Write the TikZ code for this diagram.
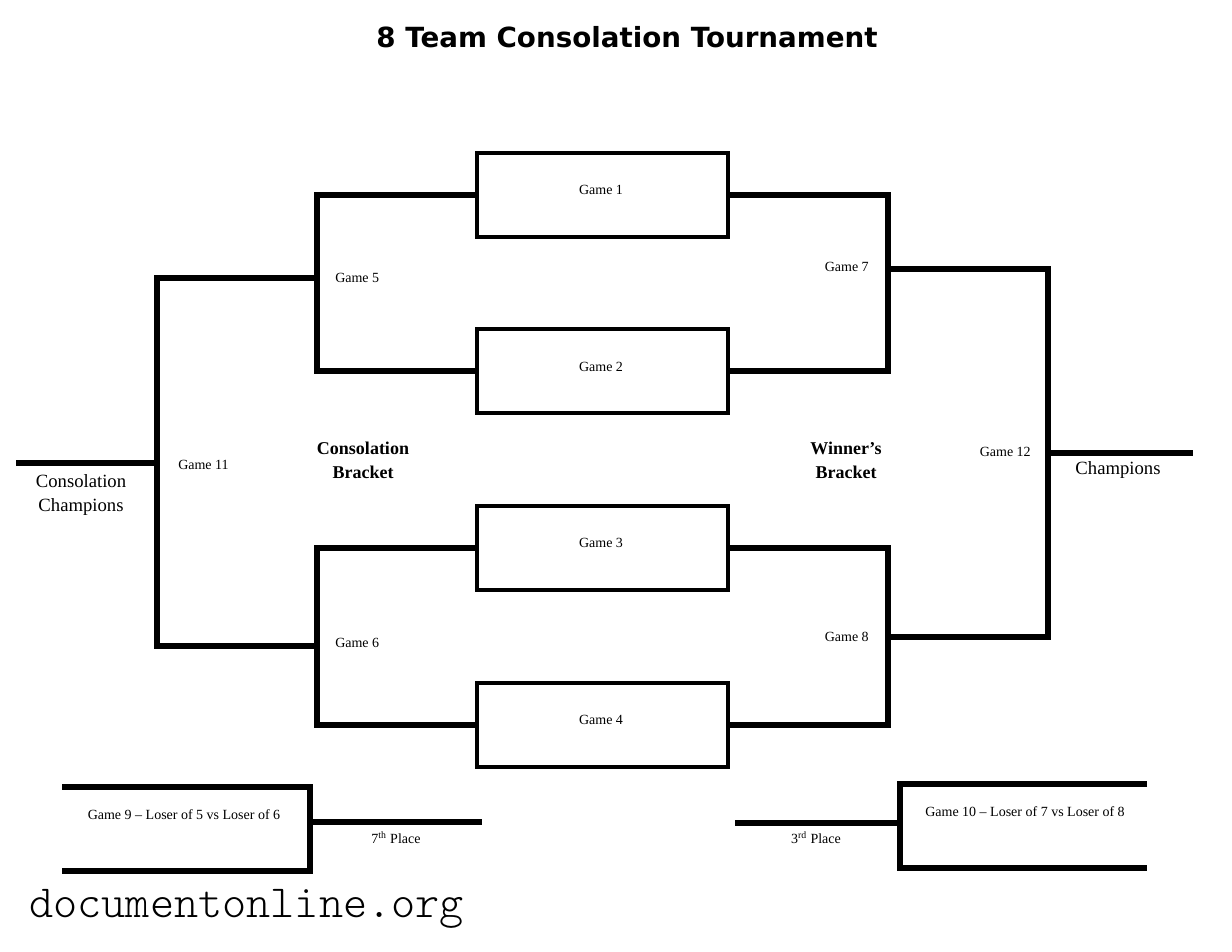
\documentclass[tikz,border=0pt]{standalone}
\usepackage{fontspec}
\setmainfont{Liberation Serif}
\newfontfamily\titlefont{DejaVu Sans}
\newfontfamily\markfont{Latin Modern Mono Light}
\begin{document}
\begin{tikzpicture}[x=0.75pt,y=-0.75pt,
  line/.style={line width=3.9pt,line join=miter},
  gamebox/.style={draw,line width=3.7pt,minimum width=251*0.75pt,minimum height=84*0.75pt,inner sep=0pt,outer sep=0pt},
  lbl/.style={font=\fontsize{10.5}{12}\selectfont,inner sep=0pt},
  big/.style={font=\fontsize{14}{18}\selectfont,align=center,inner sep=0pt},
  bigb/.style={font=\fontsize{13.5}{18}\selectfont\bfseries,align=center,inner sep=0pt}]
\useasboundingbox (0,0) rectangle (1232,952);
% title
\node[font=\titlefont\bfseries\fontsize{20.8}{24}\selectfont,inner sep=0pt] (title) at (627,37) {8 Team Consolation Tournament};
% boxes
\node[gamebox] (g1) at (602.5,195) {};
\node[gamebox] (g2) at (602.5,371) {};
\node[gamebox] (g3) at (602.5,548) {};
\node[gamebox] (g4) at (602.5,725) {};
\node[lbl] (t1) at (601,190) {Game 1};
\node[lbl] (t2) at (601,367) {Game 2};
\node[lbl] (t3) at (601,543) {Game 3};
\node[lbl] (t4) at (601,720) {Game 4};
% junctions
\coordinate (j5) at (317,278);
\coordinate (j6) at (317,646);
\coordinate (j11) at (157,463);
\coordinate (cc) at (16,463);
\coordinate (j7) at (888,269);
\coordinate (j8) at (888,637);
\coordinate (j12) at (1048,453);
\coordinate (ch) at (1193,453);
% consolation side
\draw[line] (g1.west) -| (j5) |- (g2.west);
\draw[line] (g3.west) -| (j6) |- (g4.west);
\draw[line] (j5) -| (j11) |- (j6);
\draw[line] (j11) -- (cc);
% winners side
\draw[line] (g1.east) -| (j7) |- (g2.east);
\draw[line] (g3.east) -| (j8) |- (g4.east);
\draw[line] (j7) -| (j12) |- (j8);
\draw[line] (j12) -- (ch);
% labels
\node[lbl,anchor=west] (t5) at (335,278) {Game 5};
\node[lbl,anchor=west] (t6) at (335,643) {Game 6};
\node[lbl,anchor=east] (t7) at (869,267) {Game 7};
\node[lbl,anchor=east] (t8) at (869,637) {Game 8};
\node[lbl,anchor=west] (t11) at (178,465) {Game 11};
\node[lbl,anchor=east] (t12) at (1031,452) {Game 12};
\node[big] (tcc) at (81,495) {Consolation\\Champions};
\node[big] (tch) at (1118,470) {Champions};
\node[bigb] (tcb) at (363,460) {Consolation\\Bracket};
\node[bigb] (twb) at (846,460) {Winner’s\\Bracket};
% game 9
\coordinate (g9a) at (62,787);
\coordinate (g9b) at (62,871);
\coordinate (j9) at (310,822);
\coordinate (p7) at (482,822);
\draw[line] (g9a) -| (j9) |- (g9b);
\draw[line] (j9) -- (p7);
\node[lbl] (t9) at (184,815) {Game 9 – Loser of 5 vs Loser of 6};
\node[lbl] (t7p) at (396,838) {7\textsuperscript{th} Place};
% game 10
\coordinate (g10a) at (1147,784);
\coordinate (g10b) at (1147,868);
\coordinate (j10) at (900,823);
\coordinate (p3) at (735,823);
\draw[line] (g10a) -| (j10) |- (g10b);
\draw[line] (j10) -- (p3);
\node[lbl] (t10) at (1025,812) {Game 10 – Loser of 7 vs Loser of 8};
\node[lbl] (t3p) at (816,838) {3\textsuperscript{rd} Place};
% watermark
\node[font=\markfont\fontsize{34.5}{36}\selectfont,inner sep=0pt,anchor=west] (wm) at (29,909) {documentonline.org};
\end{tikzpicture}
\end{document}
